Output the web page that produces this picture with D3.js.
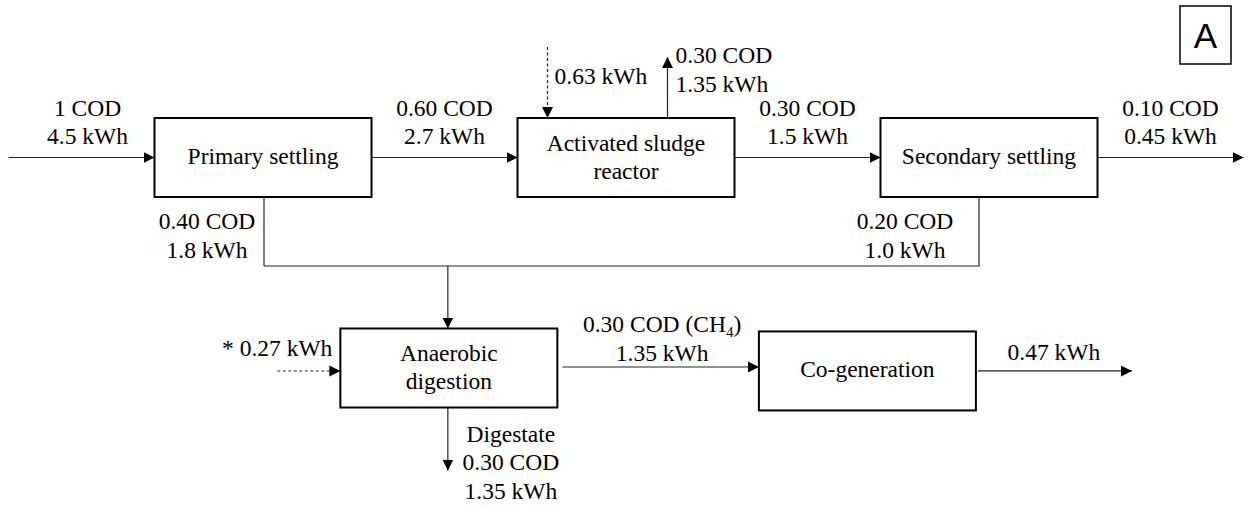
<!DOCTYPE html>
<html>
<head>
<meta charset="utf-8">
<script src="https://cdn.jsdelivr.net/npm/d3@7"></script>
</head>
<body style="margin:0">
<div class="box"></div>
<script>
// process units (boxes)
const processes = ['Primary settling', 'Activated sludge|reactor', 'Secondary settling', 'Anaerobic|digestion', 'Co-generation'];

// flows : COD fraction and energy content
const flowNames = ['influent', 'primary effluent', 'AS effluent', 'final effluent', 'oxidised', 'aeration',
                   'primary sludge', 'secondary sludge', 'digester heating', 'biogas', 'digestate', 'electricity'];
const flowCOD = ['1', '0.60', '0.30', '0.10', '0.30', null, '0.40', '0.20', null, '0.30', '0.30', null];
const flowKWh = ['4.5', '2.7', '1.5', '0.45', '1.35', '0.63', '1.8', '1.0', '0.27', '1.35', '1.35', '0.47'];

const panelLabel = 'A';

const fontSerif = 'Liberation Serif';
const fontSize = 23.5;

const dims = {width: 1251, height: 507, boxW: 217, boxH: 79};

const svg = d3.select('.box')
              .append('svg')
              .attr('width', dims.width)
              .attr('height', dims.height);

// scales (grid units -> pixels)
const x = d3.scaleLinear().domain([0, 2]).range([263, 989]);
const y = d3.scaleLinear().domain([0, 1]).range([157.5, 368]);

// placement of each process on the grid
const grid = [[0, 0], [1, 0], [2, 0], [0.512, 1], [1.665, 1.014]];

const boxes = processes.map((p, i) => {
    const cx = x(grid[i][0]), cy = y(grid[i][1]);
    return {name: p, cx, cy,
            l: cx - dims.boxW / 2, r: cx + dims.boxW / 2,
            t: cy - dims.boxH / 2, b: cy + dims.boxH / 2};
});

// arrow head
svg.append('defs').append('marker')
   .attr('id', 'head')
   .attr('markerUnits', 'userSpaceOnUse')
   .attr('viewBox', '0 -6 12 12')
   .attr('refX', 11).attr('refY', 0)
   .attr('markerWidth', 12).attr('markerHeight', 12)
   .attr('orient', 'auto')
   .append('path')
   .attr('d', 'M0,-5.5L11,0L0,5.5Z')
   .attr('fill', '#000');

const [b0, b1, b2, b3, b4] = boxes;
const collectorY = 266;

// geometry of each flow, built from the boxes
const flowGeom = [
    {pts: [[b0.l - 146, b0.cy], [b0.l, b0.cy]], lx: b0.l - 67, ly: b0.cy - 42, anchor: 'middle'},
    {pts: [[b0.r, b0.cy], [b1.l, b1.cy]], lx: (b0.r + b1.l) / 2, ly: b0.cy - 42, anchor: 'middle'},
    {pts: [[b1.r, b1.cy], [b2.l, b2.cy]], lx: (b1.r + b2.l) / 2, ly: b1.cy - 42, anchor: 'middle'},
    {pts: [[b2.r, b2.cy], [b2.r + 146, b2.cy]], lx: b2.r + 73, ly: b2.cy - 42, anchor: 'middle'},
    {pts: [[b1.l + 150, b1.t], [b1.l + 150, b1.t - 61]], lx: b1.l + 158, ly: b1.t - 55, anchor: 'start'},
    {pts: [[b1.l + 30, b1.t - 71], [b1.l + 30, b1.t]], lx: b1.l + 37, ly: b1.t - 34, anchor: 'start', dash: true},
    {pts: [[b0.cx + 1, b0.b], [b0.cx + 1, collectorY]], lx: b0.cx - 56, ly: b0.b + 32, anchor: 'middle', noHead: true},
    {pts: [[b2.cx - 10, b2.b], [b2.cx - 10, collectorY], [b0.cx + 1, collectorY]], lx: b2.cx - 84, ly: b2.b + 32, anchor: 'middle', noHead: true},
    {pts: [[b3.l - 63, b3.cy + 3], [b3.l, b3.cy + 3]], lx: b3.l - 8, ly: b3.cy - 12, anchor: 'end', dash: true},
    {pts: [[b3.r + 5, b3.cy - 1], [b4.l, b3.cy - 1]], lx: (b3.r + b4.l) / 2 + 4, ly: b3.cy - 36, anchor: 'middle'},
    {pts: [[b3.cx - 1, b3.b], [b3.cx - 1, b3.b + 63]], lx: b3.cx + 62, ly: b3.b + 34, anchor: 'middle'},
    {pts: [[b4.r + 2, b4.cy], [b4.r + 156, b4.cy]], lx: b4.r + 78, ly: b4.cy - 11, anchor: 'middle'}
];

const line = d3.line();

// combined sludge line down to the digester
svg.append('path')
   .attr('d', line([[b3.cx - 1, collectorY], [b3.cx - 1, b3.t]]))
   .attr('fill', 'none')
   .attr('stroke', '#222')
   .attr('stroke-width', 1.2)
   .attr('marker-end', 'url(#head)');

// flow lines
svg.selectAll('path.flow')
   .data(flowGeom)
   .enter()
   .append('path')
   .attr('class', 'flow')
   .attr('d', d => line(d.pts))
   .attr('fill', 'none')
   .attr('stroke', '#222')
   .attr('stroke-width', 1.2)
   .attr('stroke-dasharray', d => d.dash ? '3,2.5' : null)
   .attr('marker-end', d => d.noHead ? null : 'url(#head)');

// flow labels : one text per line
const labelRows = [];
flowGeom.forEach((d, i) => {
    let lines = [];
    if (flowNames[i] === 'digestate') lines.push('Digestate');
    if (flowCOD[i] !== null) lines.push(flowCOD[i] + ' COD');
    lines.push((flowNames[i] === 'digester heating' ? '* ' : '') + flowKWh[i] + ' kWh');
    lines.forEach((s, k) => labelRows.push({text: s, x: d.lx, y: d.ly + k * 28.5, anchor: d.anchor, ch4: flowNames[i] === 'biogas' && k === 0}));
});

svg.selectAll('text.flowlab')
   .data(labelRows.filter(r => !r.ch4))
   .enter()
   .append('text')
   .attr('class', 'flowlab')
   .attr('x', d => d.x)
   .attr('y', d => d.y)
   .attr('text-anchor', d => d.anchor)
   .attr('font-family', fontSerif)
   .attr('font-size', fontSize)
   .text(d => d.text);

// biogas line with subscript, placed piece by piece
labelRows.filter(r => r.ch4).forEach(r => {
    const g = svg.append('g');
    const main = g.append('text')
                  .attr('y', r.y)
                  .attr('font-family', fontSerif)
                  .attr('font-size', fontSize)
                  .text(r.text + ' (CH');
    const w1 = main.node().getComputedTextLength();
    const sub = g.append('text')
                 .attr('x', w1).attr('y', r.y + 5)
                 .attr('font-family', fontSerif)
                 .attr('font-size', 15)
                 .text('4');
    const w2 = sub.node().getComputedTextLength();
    const close = g.append('text')
                   .attr('x', w1 + w2).attr('y', r.y)
                   .attr('font-family', fontSerif)
                   .attr('font-size', fontSize)
                   .text(')');
    const w3 = close.node().getComputedTextLength();
    g.attr('transform', `translate(${r.x - (w1 + w2 + w3) / 2}, 0)`);
});

// process boxes
const units = svg.selectAll('g.unit')
   .data(boxes)
   .enter()
   .append('g')
   .attr('class', 'unit');

units.append('rect')
     .attr('x', d => d.l)
     .attr('y', d => d.t)
     .attr('width', dims.boxW)
     .attr('height', dims.boxH)
     .attr('fill', 'none')
     .attr('stroke', '#000')
     .attr('stroke-width', 2);

const boxRows = [];
boxes.forEach(d => {
    const parts = d.name.split('|');
    const y0 = parts.length === 1 ? d.cy + 6 : d.cy - 7;
    parts.forEach((s, k) => boxRows.push({text: s, x: d.cx, y: y0 + k * 28}));
});

svg.selectAll('text.boxlab')
   .data(boxRows)
   .enter()
   .append('text')
   .attr('class', 'boxlab')
   .attr('x', d => d.x)
   .attr('y', d => d.y)
   .attr('text-anchor', 'middle')
   .attr('font-family', fontSerif)
   .attr('font-size', fontSize)
   .text(d => d.text);

// panel letter
svg.append('rect')
   .attr('x', 1180).attr('y', 6)
   .attr('width', 51).attr('height', 58)
   .attr('fill', 'none')
   .attr('stroke', '#000')
   .attr('stroke-width', 1.5);
svg.append('text')
   .attr('x', 1205.5).attr('y', 48)
   .attr('text-anchor', 'middle')
   .attr('font-size', 35)
   .attr('font-family', 'Liberation Sans')
   .text(panelLabel);
</script>
</body>
</html>
